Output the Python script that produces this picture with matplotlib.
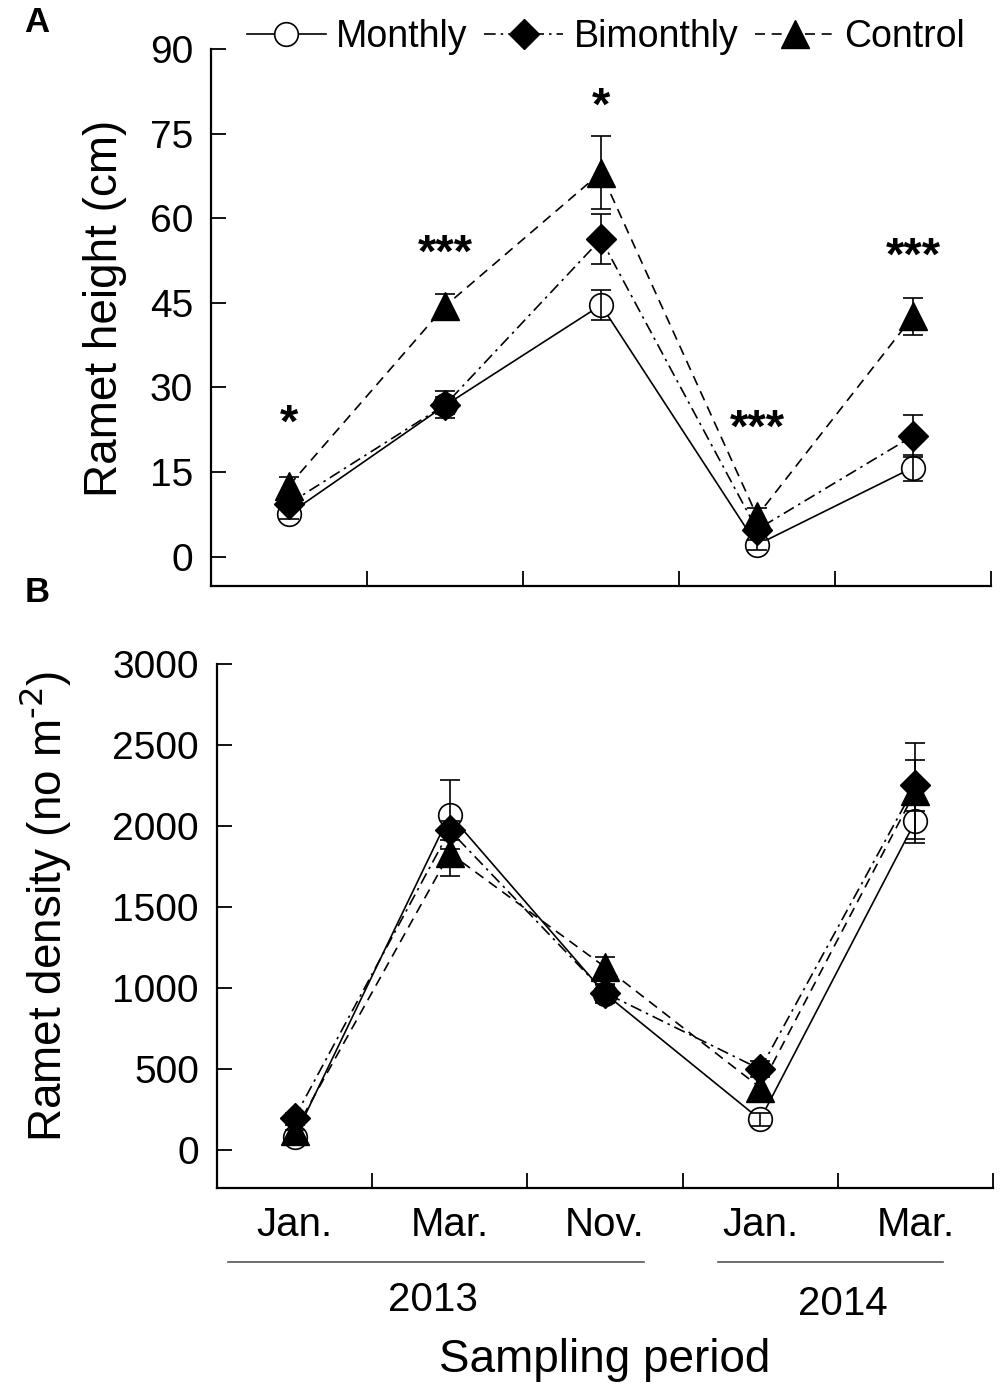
import numpy as np
import matplotlib
matplotlib.use("Agg")
import matplotlib.pyplot as plt
from matplotlib.lines import Line2D
import matplotlib.transforms as mtransforms

plt.rcParams['font.family'] = ['Liberation Sans', 'DejaVu Sans']
plt.rcParams['mathtext.default'] = 'regular'

# ---------------- data ----------------
months = ['Jan.', 'Mar.', 'Nov.', 'Jan.', 'Mar.']
years = ['2013', '2014']
series_names = ['Monthly', 'Bimonthly', 'Control']

height_monthly = [7.6, 26.8, 44.6, 2.1, 15.8]
height_monthly_se = [1.0, 1.5, 2.7, 0.9, 2.3]
height_bimonthly = [9.4, 26.9, 56.3, 4.8, 21.4]
height_bimonthly_se = [1.0, 2.4, 4.5, 1.0, 3.8]
height_control = [12.6, 44.4, 68.1, 7.2, 42.6]
height_control_se = [1.5, 2.2, 6.5, 1.5, 3.3]

density_monthly = [80, 2070, 965, 188, 2030]
density_monthly_se = [40, 215, 60, 40, 135]
density_bimonthly = [200, 1973, 970, 498, 2250]
density_bimonthly_se = [30, 60, 50, 50, 160]
density_control = [116, 1832, 1129, 385, 2215]
density_control_se = [40, 140, 60, 90, 295]

sig_labels = ['*', '***', '*', '***', '***']
sig_heights = [21.2, 51.4, 77.4, 20.3, 50.8]

# ---------------- layout / style ----------------
W, H = 1000, 1386
fig = plt.figure(figsize=(W / 100, H / 100), dpi=100)

def axes_rect(l, r, t, b):
    return [l / W, 1 - b / H, (r - l) / W, (b - t) / H]

axA = fig.add_axes(axes_rect(211, 991, 49, 586))
axB = fig.add_axes(axes_rect(217, 993, 664, 1188))

styles = [
    dict(marker='o', ms=17, mfc='white', mec='black', mew=1.2, ls='-', z=3),
    dict(marker='D', ms=15, mfc='black', mec='black', mew=1.0, ls=(0, (7, 3, 1.5, 3)), z=5),
    dict(marker='^', ms=20, mfc='black', mec='black', mew=1.0, ls=(0, (6, 4)), z=4),
]

x = np.arange(len(months)) + 0.5

def draw(ax, means, ses):
    handles = []
    for m, s, st, name in zip(means, ses, styles, series_names):
        ln, = ax.plot(x, m, color='black', lw=1.2, ls=st['ls'], marker=st['marker'],
                      ms=st['ms'], mfc=st['mfc'], mec=st['mec'], mew=st['mew'],
                      zorder=st['z'], label=name, clip_on=False)
        ax.errorbar(x, m, yerr=s, fmt='none', ecolor='black', elinewidth=1.2,
                    capsize=7, capthick=1.2, zorder=st['z'] + 0.5, clip_on=False)
        handles.append(ln)
    return handles

handles = draw(axA, [height_monthly, height_bimonthly, height_control],
               [height_monthly_se, height_bimonthly_se, height_control_se])
draw(axB, [density_monthly, density_bimonthly, density_control],
     [density_monthly_se, density_bimonthly_se, density_control_se])

for ax in (axA, axB):
    ax.set_xlim(0, 5)
    ax.spines['top'].set_visible(False)
    ax.spines['right'].set_visible(False)
    for sp in ('left', 'bottom'):
        ax.spines[sp].set_linewidth(1.6)
    ax.set_xticks(np.arange(1, 6))
    ax.set_xticklabels([])
    ax.tick_params(axis='both', which='major', direction='in', length=11, width=1.3,
                   labelsize=28, pad=13)

axA.set_ylim(-5.2, 90)
axA.set_yticks([0, 15, 30, 45, 60, 75, 90])
axB.set_ylim(-235, 3000)
axB.set_yticks([0, 500, 1000, 1500, 2000, 2500, 3000])

axB.set_xticks(x, minor=True)
axB.set_xticklabels(months, minor=True)
axB.tick_params(axis='x', which='minor', length=0, labelsize=29, pad=13)

# significance marks
for xi, lab, yv in zip(x, sig_labels, sig_heights):
    axA.text(xi, yv, lab, ha='center', va='baseline', fontsize=34, fontweight='bold',
             zorder=10)

# axis labels
fig.text(105 / W, 1 - 308 / H, 'Ramet height (cm)', rotation=90, ha='center',
         va='center', fontsize=33)
fig.text(45 / W, 1 - 906 / H, r'Ramet density (no m$^{\text{-2}}$)', rotation=90,
         ha='center', va='center', fontsize=33)

# year grouping
trB = mtransforms.blended_transform_factory(axB.transData, axB.transAxes)
year_spans = [(0.07, 2.75), (3.23, 4.68)]
year_text_x = [1.39, 4.03]
year_text_y = [-0.214, -0.222]
for (a, b), yr, tx, ty in zip(year_spans, years, year_text_x, year_text_y):
    axB.add_line(Line2D([a, b], [-0.141, -0.141], transform=trB, color='#555555',
                        lw=1.2, clip_on=False))
    axB.text(tx, ty, yr, transform=trB, ha='center', va='center', fontsize=29)
axB.text(2.5, -0.328, 'Sampling period', transform=trB, ha='center', va='center',
         fontsize=33)

# panel letters
fig.text(37 / W, 1 - 22 / H, 'A', fontsize=25, fontweight='bold', ha='center', va='center')
fig.text(37 / W, 1 - 592 / H, 'B', fontsize=25, fontweight='bold', ha='center', va='center')

# legend
fig.legend(handles=handles, loc='center', bbox_to_anchor=(606 / W, 1 - 37 / H), ncol=3,
           frameon=False, fontsize=27, handlelength=2.1, handletextpad=0.28,
           columnspacing=0.45, borderpad=0, borderaxespad=0)

fig.savefig('out.png', dpi=100)
